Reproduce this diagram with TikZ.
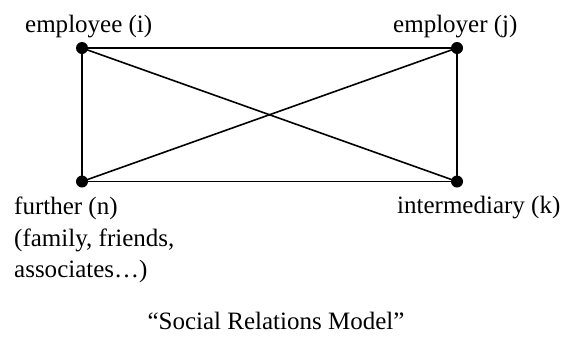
\documentclass[tikz,border=0pt]{standalone}
\usepackage{fontspec}
\setmainfont{Liberation Serif}
\begin{document}
\begin{tikzpicture}[x=1bp,y=-1bp,
  dotnode/.style={circle,fill=black,inner sep=0pt,minimum size=12bp},
  lbl/.style={inner sep=0pt,font=\fontsize{25bp}{30bp}\selectfont},
  edge/.style={line width=1.6bp}]
\useasboundingbox (0,0) rectangle (567,336);
\node[dotnode] (i) at (82,48) {};
\node[dotnode] (j) at (457,48) {};
\node[dotnode] (n) at (82,181.5) {};
\node[dotnode] (k) at (457,181.5) {};
\draw[edge] (i.center) -- (j.center) -- (k.center) -- (n.center) -- cycle;
\draw[edge] (i.center) -- (k.center);
\draw[edge] (j.center) -- (n.center);
\node[lbl,anchor=base west] (ti) at (25,32) {employee (i)};
\node[lbl,anchor=base west] (tj) at (393,32) {employer (j)};
\node[lbl,anchor=base west] (tn) at (14,214) {further (n)};
\node[lbl,anchor=base west] (tn2) at (14,246) {(family, friends,};
\node[lbl,anchor=base west] (tn3) at (14,277) {associates…)};
\node[lbl,anchor=base west] (tk) at (397,213) {intermediary (k)};
\node[lbl,anchor=base] (title) at (276,329) {“Social Relations Model”};
\end{tikzpicture}
\end{document}
